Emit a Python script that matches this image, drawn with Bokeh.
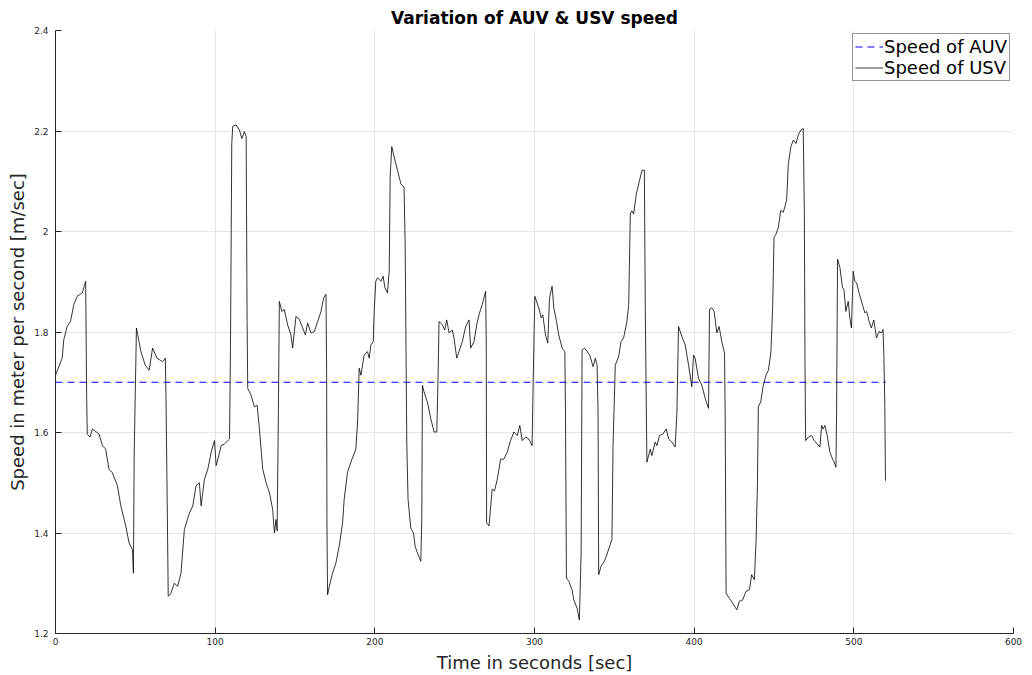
from bokeh.plotting import figure
from bokeh.models import Range1d, FixedTicker, NumeralTickFormatter, Legend, LegendItem
from bokeh.embed import file_html
from bokeh.resources import INLINE

# Speed of USV (time in s, speed in m/s)
usv_t = [0.0, 4.2, 5.2, 7.3, 9.4, 11.5, 13.6, 16.8, 18.9, 19.5, 19.9, 21.6, 23.1, 27.3, 29.4, 31.4, 33.5,
         35.6, 38.8, 40.9, 44.0, 46.1, 48.2, 48.8, 49.3, 50.7, 53.5, 56.2, 58.7, 60.8, 63.5, 67.1, 68.8,
         69.2, 69.8, 70.6, 72.3, 74.4, 76.5, 78.6, 80.7, 83.9, 86.0, 88.0, 90.1, 91.2, 93.3, 95.4, 97.5,
         99.6, 100.6, 101.7, 103.8, 105.8, 109.0, 109.6, 110.4, 111.0, 113.1, 115.2, 116.7, 118.3, 119.4,
         120.0, 120.4, 122.5, 124.6, 126.3, 127.7, 129.8, 131.9, 134.0, 136.0, 137.1, 138.1, 138.8, 139.6,
         140.2, 141.7, 143.3, 145.4, 147.5, 148.5, 150.6, 152.7, 154.8, 156.5, 157.9, 160.0, 162.1, 164.2,
         166.3, 167.9, 169.4, 169.8, 170.0, 170.4, 171.5, 173.5, 175.6, 177.7, 179.8, 180.8, 182.9, 185.0,
         188.1, 189.2, 190.2, 191.3, 193.3, 195.4, 196.5, 197.5, 199.0, 199.6, 200.6, 201.7, 203.8, 205.2,
         206.3, 207.9, 209.0, 209.6, 210.6, 212.1, 214.2, 216.3, 218.3, 219.0, 220.0, 220.8, 222.5, 224.2,
         225.2, 226.7, 228.8, 229.4, 229.8, 230.8, 232.9, 235.0, 237.1, 238.8, 239.6, 240.2, 242.3, 243.8,
         245.0, 246.5, 248.5, 249.6, 251.3, 252.7, 254.8, 256.9, 259.0, 260.0, 262.1, 263.8, 265.2, 267.3,
         269.4, 269.8, 270.0, 271.5, 273.5, 275.0, 276.7, 278.8, 280.8, 282.9, 285.0, 287.1, 289.2, 290.8,
         292.3, 294.4, 296.5, 298.5, 299.2, 300.2, 302.7, 304.2, 305.2, 306.9, 308.3, 309.4, 311.0, 312.1,
         313.8, 315.2, 317.3, 319.0, 319.4, 320.0, 321.5, 323.5, 324.6, 326.7, 328.1, 329.2, 329.8, 331.3,
         333.0, 334.6, 336.7, 338.1, 339.2, 339.8, 340.2, 341.7, 343.8, 345.0, 347.1, 348.5, 349.2, 350.6,
         352.7, 354.2, 355.8, 357.9, 359.0, 360.0, 361.0, 362.1, 363.8, 365.8, 367.3, 368.8, 369.4, 370.4,
         372.5, 373.5, 375.6, 376.7, 378.3, 380.4, 382.5, 384.0, 386.0, 388.1, 389.2, 390.2, 392.3, 394.4,
         396.5, 398.5, 399.6, 400.6, 402.7, 404.8, 406.9, 409.0, 409.6, 411.0, 412.5, 414.2, 415.6, 417.3,
         419.0, 419.4, 420.0, 422.1, 424.2, 426.7, 428.3, 430.4, 432.5, 434.6, 436.0, 437.7, 438.8, 439.6,
         440.2, 441.7, 443.3, 445.0, 446.5, 448.1, 449.2, 450.0, 451.3, 452.7, 454.2, 455.8, 457.9, 459.0,
         460.6, 462.1, 463.8, 465.2, 466.9, 468.3, 469.0, 469.4, 469.8, 471.5, 473.5, 475.2, 477.1, 478.8,
         479.8, 480.8, 481.9, 483.3, 485.0, 486.7, 487.7, 488.8, 489.2, 489.8, 491.3, 492.9, 493.8, 495.0,
         496.5, 497.5, 498.5, 499.6, 500.6, 501.7, 503.3, 504.8, 506.9, 508.0, 509.6, 511.0, 512.5, 514.2,
         515.8, 517.3, 518.3, 518.8, 519.4, 519.8]
usv_v = [1.714, 1.748, 1.785, 1.811, 1.821, 1.855, 1.871, 1.878, 1.901, 1.674, 1.597, 1.591, 1.607, 1.597,
         1.574, 1.567, 1.527, 1.520, 1.494, 1.454, 1.414, 1.380, 1.367, 1.320, 1.561, 1.808, 1.761, 1.734,
         1.724, 1.768, 1.748, 1.741, 1.748, 1.671, 1.507, 1.274, 1.280, 1.300, 1.294, 1.320, 1.407, 1.440,
         1.454, 1.494, 1.500, 1.454, 1.507, 1.527, 1.561, 1.584, 1.534, 1.547, 1.574, 1.577, 1.587, 1.774,
         2.175, 2.209, 2.212, 2.202, 2.185, 2.199, 2.189, 1.821, 1.688, 1.674, 1.651, 1.654, 1.607, 1.527,
         1.500, 1.480, 1.447, 1.400, 1.427, 1.404, 1.641, 1.861, 1.841, 1.845, 1.814, 1.794, 1.768, 1.831,
         1.825, 1.808, 1.794, 1.818, 1.798, 1.801, 1.821, 1.841, 1.868, 1.875, 1.728, 1.427, 1.277, 1.294,
         1.320, 1.340, 1.374, 1.420, 1.467, 1.521, 1.541, 1.567, 1.621, 1.728, 1.714, 1.754, 1.761, 1.748,
         1.774, 1.781, 1.841, 1.901, 1.908, 1.901, 1.911, 1.888, 1.878, 1.921, 2.108, 2.169, 2.148, 2.122,
         2.095, 2.088, 1.975, 1.581, 1.467, 1.410, 1.400, 1.374, 1.360, 1.344, 1.427, 1.694, 1.681, 1.661,
         1.628, 1.601, 1.601, 1.708, 1.821, 1.814, 1.804, 1.824, 1.798, 1.804, 1.788, 1.748, 1.761, 1.781,
         1.811, 1.824, 1.768, 1.781, 1.814, 1.834, 1.855, 1.881, 1.774, 1.420, 1.414, 1.487, 1.484, 1.507,
         1.547, 1.547, 1.561, 1.584, 1.601, 1.594, 1.614, 1.584, 1.591, 1.587, 1.574, 1.708, 1.871, 1.848,
         1.828, 1.834, 1.794, 1.778, 1.868, 1.891, 1.848, 1.821, 1.794, 1.768, 1.761, 1.641, 1.310, 1.304,
         1.287, 1.267, 1.250, 1.227, 1.360, 1.764, 1.768, 1.761, 1.754, 1.731, 1.748, 1.734, 1.641, 1.317,
         1.334, 1.344, 1.354, 1.374, 1.387, 1.574, 1.734, 1.751, 1.781, 1.788, 1.821, 1.855, 2.035, 2.041,
         2.035, 2.075, 2.102, 2.122, 2.122, 1.841, 1.541, 1.567, 1.554, 1.581, 1.574, 1.594, 1.597, 1.607,
         1.587, 1.581, 1.571, 1.641, 1.811, 1.791, 1.774, 1.734, 1.691, 1.754, 1.748, 1.708, 1.694, 1.668,
         1.648, 1.845, 1.848, 1.841, 1.798, 1.811, 1.781, 1.758, 1.641, 1.280, 1.270, 1.260, 1.247, 1.264,
         1.267, 1.284, 1.287, 1.317, 1.307, 1.387, 1.494, 1.651, 1.661, 1.694, 1.714, 1.724, 1.761, 1.855,
         1.988, 1.995, 2.008, 2.042, 2.038, 2.062, 2.135, 2.169, 2.182, 2.175, 2.192, 2.202, 2.205, 2.042,
         1.741, 1.584, 1.591, 1.594, 1.584, 1.577, 1.571, 1.614, 1.607, 1.614, 1.594, 1.561, 1.547, 1.541,
         1.531, 1.641, 1.945, 1.928, 1.888, 1.885, 1.841, 1.861, 1.828, 1.808, 1.921, 1.901, 1.898, 1.878,
         1.861, 1.838, 1.841, 1.821, 1.808, 1.824, 1.788, 1.801, 1.798, 1.805, 1.755, 1.655, 1.504]

# Speed of AUV (constant)
auv_t = [0.0, 520.0]
auv_v = [1.7, 1.7]

x_ticks = [0, 100, 200, 300, 400, 500, 600]
y_ticks = [1.2, 1.4, 1.6, 1.8, 2.0, 2.2, 2.4]

p = figure(width=1032, height=675, output_backend="svg", toolbar_location=None,
           x_range=Range1d(0, 600), y_range=Range1d(1.2, 2.4),
           min_border_left=55, min_border_right=19, min_border_top=30, min_border_bottom=39)

p.title.text = "Variation of AUV & USV speed"
p.title.align = "center"
p.title.text_font = "DejaVu Sans"
p.title.text_font_size = "17px"
p.title.text_font_style = "bold"
p.title.text_color = "#000000"
p.title.offset = 0
p.title.standoff = 6

r_auv = p.line(auv_t, auv_v, line_color="#0000ff", line_width=1, line_dash="7 5")
r_usv = p.line(usv_t, usv_v, line_color="#000000", line_width=0.8)

p.outline_line_color = None
p.background_fill_color = "white"
p.border_fill_color = "white"

for ax in (p.xaxis[0], p.yaxis[0]):
    ax.axis_line_color = "#262626"
    ax.major_tick_line_color = "#262626"
    ax.major_tick_in = 6
    ax.major_tick_out = 0
    ax.minor_tick_line_color = None
    ax.major_label_text_font = "DejaVu Sans"
    ax.major_label_text_font_size = "9px"
    ax.major_label_text_color = "#262626"
    ax.axis_label_text_font = "DejaVu Sans"
    ax.axis_label_text_font_size = "18px"
    ax.axis_label_text_font_style = "normal"
    ax.axis_label_text_color = "#262626"

p.xaxis[0].ticker = FixedTicker(ticks=x_ticks)
p.yaxis[0].ticker = FixedTicker(ticks=y_ticks)
p.yaxis[0].formatter = NumeralTickFormatter(format="0.[0]")
p.xaxis[0].axis_label = "Time in seconds [sec]"
p.yaxis[0].axis_label = "Speed in meter per second [m/sec]"
p.xaxis[0].major_label_standoff = 4
p.xaxis[0].axis_label_standoff = 4
p.yaxis[0].major_label_standoff = 7
p.yaxis[0].axis_label_standoff = 3

p.xgrid[0].grid_line_color = "#e5e5e5"
p.ygrid[0].grid_line_color = "#e5e5e5"
p.xgrid[0].ticker = FixedTicker(ticks=x_ticks)
p.ygrid[0].ticker = FixedTicker(ticks=y_ticks)

legend = Legend(items=[LegendItem(label="Speed of AUV", renderers=[r_auv]),
                       LegendItem(label="Speed of USV", renderers=[r_usv])],
                location="top_right")
legend.label_text_font = "DejaVu Sans"
legend.label_text_font_size = "18px"
legend.label_text_color = "#000000"
legend.label_height = 21
legend.label_standoff = 1
legend.glyph_width = 28
legend.glyph_height = 21
legend.spacing = 0
legend.padding = 2
legend.margin = 3
legend.border_line_color = "#262626"
legend.border_line_width = 1
legend.background_fill_color = "white"
legend.background_fill_alpha = 1.0
p.add_layout(legend, "center")

open("out.html", "w").write(file_html(p, INLINE))
